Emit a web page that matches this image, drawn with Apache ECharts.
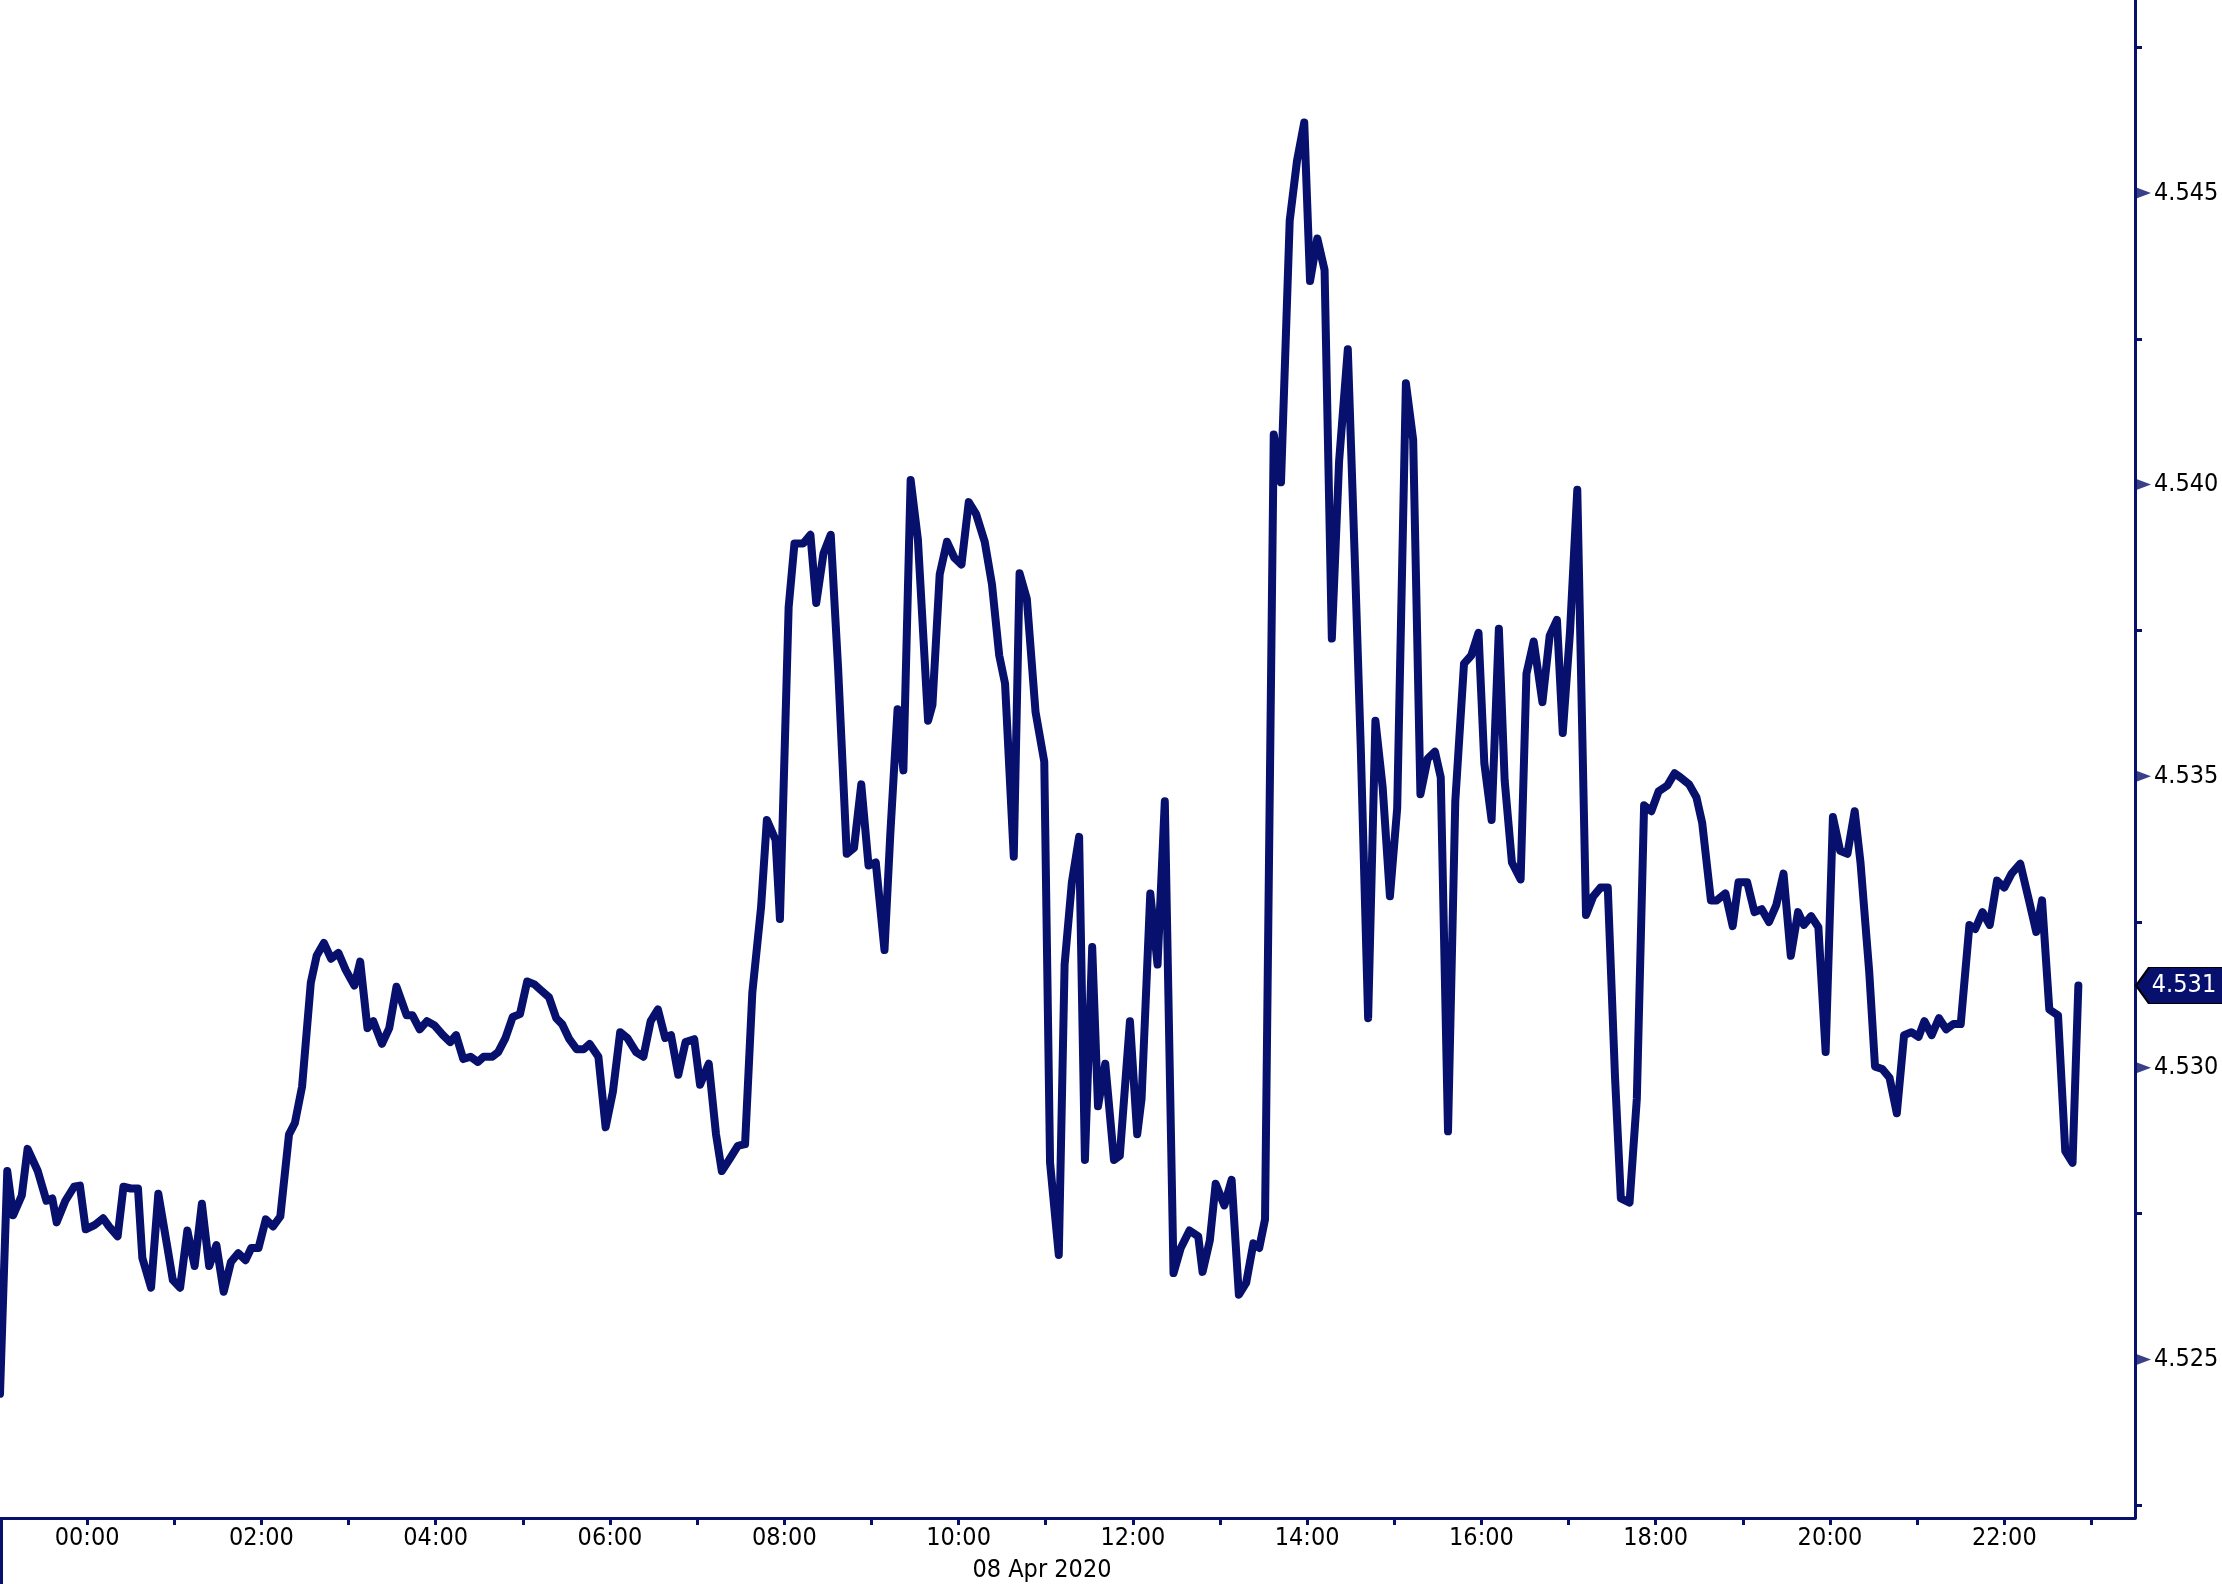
<!DOCTYPE html>
<html>
<head>
<meta charset="utf-8">
<script src="https://cdn.jsdelivr.net/npm/echarts@6/dist/echarts.min.js"></script>
<style>
html,body{margin:0;padding:0;background:#ffffff;}
#chart{width:2222px;height:1584px;}
</style>
</head>
<body>
<div id="chart"></div>
<script>
// minutes relative to 08 Apr 2020 00:00 (negative = 07 Apr)
const minutes = [
-60,-55,-51,-45,-41,-34,-28,-24,-21,-15,
-9,-5,-1,5,11,15,21,25,30,35,
38,44,49,55,59,64,69,74,79,84,
89,94,99,104,109,113,118,123,128,133,
139,143,148,154,158,163,168,173,178,184,
188,193,197,203,208,213,220,224,229,234,
239,245,250,254,259,264,269,273,279,283,
288,293,298,303,308,312,318,323,327,332,
337,342,346,352,357,362,367,372,378,383,
388,393,398,402,407,412,418,422,428,433,
437,442,448,453,458,464,468,474,477,483,
487,493,498,502,507,512,517,523,528,533,
538,543,549,553,558,562,567,572,579,582,
587,592,597,602,607,612,618,623,628,632,
638,642,647,653,659,663,669,673,678,683,
687,692,696,701,707,711,718,723,726,732,
737,742,748,753,759,765,768,773,777,783,
788,793,798,803,807,811,817,822,828,833,
838,842,847,852,857,862,868,873,877,882,
887,892,897,902,908,913,918,923,928,932,
937,942,948,953,958,962,967,972,976,981,
987,991,996,1002,1007,1012,1016,1021,1026,1032,
1037,1042,1047,1052,1056,1062,1067,1072,1077,1082,
1088,1093,1097,1103,1108,1112,1118,1122,1128,1133,
1137,1143,1148,1153,1158,1163,1168,1173,1178,1182,
1187,1192,1197,1202,1207,1212,1217,1221,1227,1231,
1236,1241,1246,1251,1256,1261,1265,1270,1275,1280,
1285,1290,1296,1300,1305,1310,1315,1320,1325,1331,
1337,1342,1346,1351,1357,1362,1367,1371
];
const values = [
4.52441,4.52823,4.52747,4.52781,4.52861,4.52823,4.52772,4.52776,4.52735,4.52772,
4.52796,4.52798,4.52723,4.52730,4.52742,4.52728,4.52711,4.52796,4.52793,4.52793,
4.52674,4.52623,4.52784,4.52696,4.52636,4.52623,4.52721,4.52660,4.52767,4.52660,
4.52696,4.52616,4.52667,4.52682,4.52670,4.52691,4.52691,4.52740,4.52728,4.52745,
4.52886,4.52905,4.52968,4.53146,4.53192,4.53214,4.53187,4.53197,4.53168,4.53141,
4.53182,4.53068,4.53080,4.53041,4.53068,4.53139,4.53090,4.53090,4.53066,4.53080,
4.53073,4.53056,4.53044,4.53056,4.53015,4.53019,4.53010,4.53019,4.53019,4.53027,
4.53051,4.53087,4.53092,4.53148,4.53143,4.53134,4.53121,4.53085,4.53075,4.53049,
4.53032,4.53032,4.53041,4.53019,4.52898,4.52959,4.53061,4.53051,4.53027,4.53019,
4.53080,4.53100,4.53051,4.53056,4.52988,4.53044,4.53049,4.52971,4.53007,4.52886,
4.52823,4.52842,4.52866,4.52869,4.53129,4.53275,4.53425,4.53391,4.53255,4.53790,
4.53899,4.53899,4.53914,4.53797,4.53882,4.53914,4.53688,4.53367,4.53377,4.53486,
4.53347,4.53352,4.53202,4.53401,4.53615,4.53510,4.54008,4.53906,4.53595,4.53622,
4.53846,4.53902,4.53875,4.53863,4.53970,4.53950,4.53902,4.53829,4.53707,4.53659,
4.53362,4.53848,4.53804,4.53610,4.53525,4.52837,4.52679,4.53177,4.53318,4.53396,
4.52842,4.53207,4.52934,4.53007,4.52842,4.52849,4.53080,4.52886,4.52947,4.53299,
4.53177,4.53457,4.52648,4.52691,4.52721,4.52711,4.52650,4.52704,4.52801,4.52764,
4.52808,4.52611,4.52631,4.52699,4.52691,4.52740,4.54086,4.54004,4.54453,4.54555,
4.54621,4.54349,4.54422,4.54368,4.53736,4.54040,4.54232,4.53858,4.53542,4.53085,
4.53595,4.53481,4.53294,4.53445,4.54174,4.54077,4.53469,4.53530,4.53542,4.53498,
4.52891,4.53457,4.53693,4.53707,4.53746,4.53522,4.53425,4.53753,4.53493,4.53352,
4.53323,4.53676,4.53731,4.53627,4.53741,4.53768,4.53574,4.53748,4.53991,4.53262,
4.53294,4.53309,4.53309,4.52983,4.52776,4.52769,4.52947,4.53450,4.53440,4.53474,
4.53484,4.53505,4.53498,4.53486,4.53464,4.53420,4.53287,4.53287,4.53299,4.53243,
4.53318,4.53318,4.53267,4.53272,4.53250,4.53279,4.53333,4.53192,4.53267,4.53245,
4.53260,4.53241,4.53027,4.53430,4.53372,4.53367,4.53440,4.53352,4.53165,4.53002,
4.52998,4.52983,4.52922,4.53056,4.53061,4.53053,4.53080,4.53056,4.53085,4.53066,
4.53075,4.53075,4.53245,4.53238,4.53267,4.53245,4.53321,4.53309,4.53333,4.53350,
4.53287,4.53233,4.53287,4.53100,4.53090,4.52857,4.52837,4.53141
];
const yLabelValues = [4.525, 4.530, 4.535, 4.540, 4.545];
const yMinorTickValues = [4.5225, 4.5275, 4.5325, 4.5375, 4.5425, 4.5475];
const xLabelHours = [0, 2, 4, 6, 8, 10, 12, 14, 16, 18, 20, 22];
const xTickHours = [-1,0,1,2,3,4,5,6,7,8,9,10,11,12,13,14,15,16,17,18,19,20,21,22,23];
const dateLabel = '08 Apr 2020';

const X_MIN = -1, X_MAX = 23.5;
const Y_MIN = 4.52228, Y_MAX = 4.54831;
const NAVY = '#07106c';
const FONT = '"DejaVu Sans Condensed", "Liberation Sans", sans-serif';

const n = Math.min(minutes.length, values.length);
const lineData = [];
for (let i = 0; i < n; i++) lineData.push([minutes[i] / 60, values[i]]);
const lastValue = values[n - 1];

const pad = h => (h < 10 ? '0' : '') + h;

const chart = echarts.init(document.getElementById('chart'), null, {renderer: 'canvas'});
chart.setOption({
  animation: false,
  backgroundColor: '#ffffff',
  grid: {left: 0, right: 87, top: 0, bottom: 66, containLabel: false},
  xAxis: {
    type: 'value',
    min: X_MIN,
    max: X_MAX,
    axisLine: {show: true, onZero: false, lineStyle: {color: NAVY, width: 3}},
    axisTick: {show: true, customValues: xTickHours, length: 7, lineStyle: {color: NAVY, width: 3}},
    axisLabel: {
      show: true,
      customValues: xLabelHours,
      formatter: v => pad(Math.round(v)) + ':00',
      color: '#000',
      fontSize: 25,
      fontFamily: FONT,
      margin: 8
    },
    splitLine: {show: false}
  },
  yAxis: {
    type: 'value',
    position: 'right',
    min: Y_MIN,
    max: Y_MAX,
    axisLine: {show: true, onZero: false, lineStyle: {color: NAVY, width: 3}},
    axisTick: {show: true, customValues: yMinorTickValues, length: 7, lineStyle: {color: NAVY, width: 3}},
    axisLabel: {
      show: true,
      customValues: yLabelValues,
      formatter: v => v.toFixed(3),
      color: '#000',
      fontSize: 25,
      fontFamily: FONT,
      margin: 19
    },
    splitLine: {show: false}
  },
  graphic: [
    {type: 'rect', shape: {x: 0, y: 1518, width: 3, height: 66}, style: {fill: NAVY}, silent: true},
    {type: 'text', x: 1042, y: 1570, style: {text: dateLabel, font: '25px ' + FONT, fill: '#000', align: 'center', verticalAlign: 'middle', textAlign: 'center', textVerticalAlign: 'middle'}, silent: true}
  ],
  series: [
    {
      type: 'line',
      data: lineData,
      showSymbol: false,
      symbol: 'none',
      clip: false,
      lineStyle: {color: NAVY, width: 8, join: 'round', cap: 'round'},
      z: 3,
      markPoint: {
        silent: true,
        symbol: 'path://M0,18L13,0L100,0L100,36L13,36Z',
        symbolSize: [100, 36],
        symbolOffset: [51, 0],
        itemStyle: {color: NAVY, borderColor: '#000', borderWidth: 1.5},
        label: {show: true, position: 'inside', formatter: lastValue.toFixed(3), color: '#fff', fontSize: 25, fontFamily: FONT, offset: [-2, 0]},
        data: [{coord: [X_MAX, lastValue], value: lastValue}]
      }
    },
    {
      type: 'scatter',
      data: yLabelValues.map(v => [X_MAX, v]),
      symbol: 'path://M0,0L16,6L0,12Z',
      symbolSize: [16, 12],
      symbolOffset: [8, 0],
      itemStyle: {color: NAVY},
      clip: false,
      silent: true,
      z: 5
    }
  ]
});
</script>
</body>
</html>
